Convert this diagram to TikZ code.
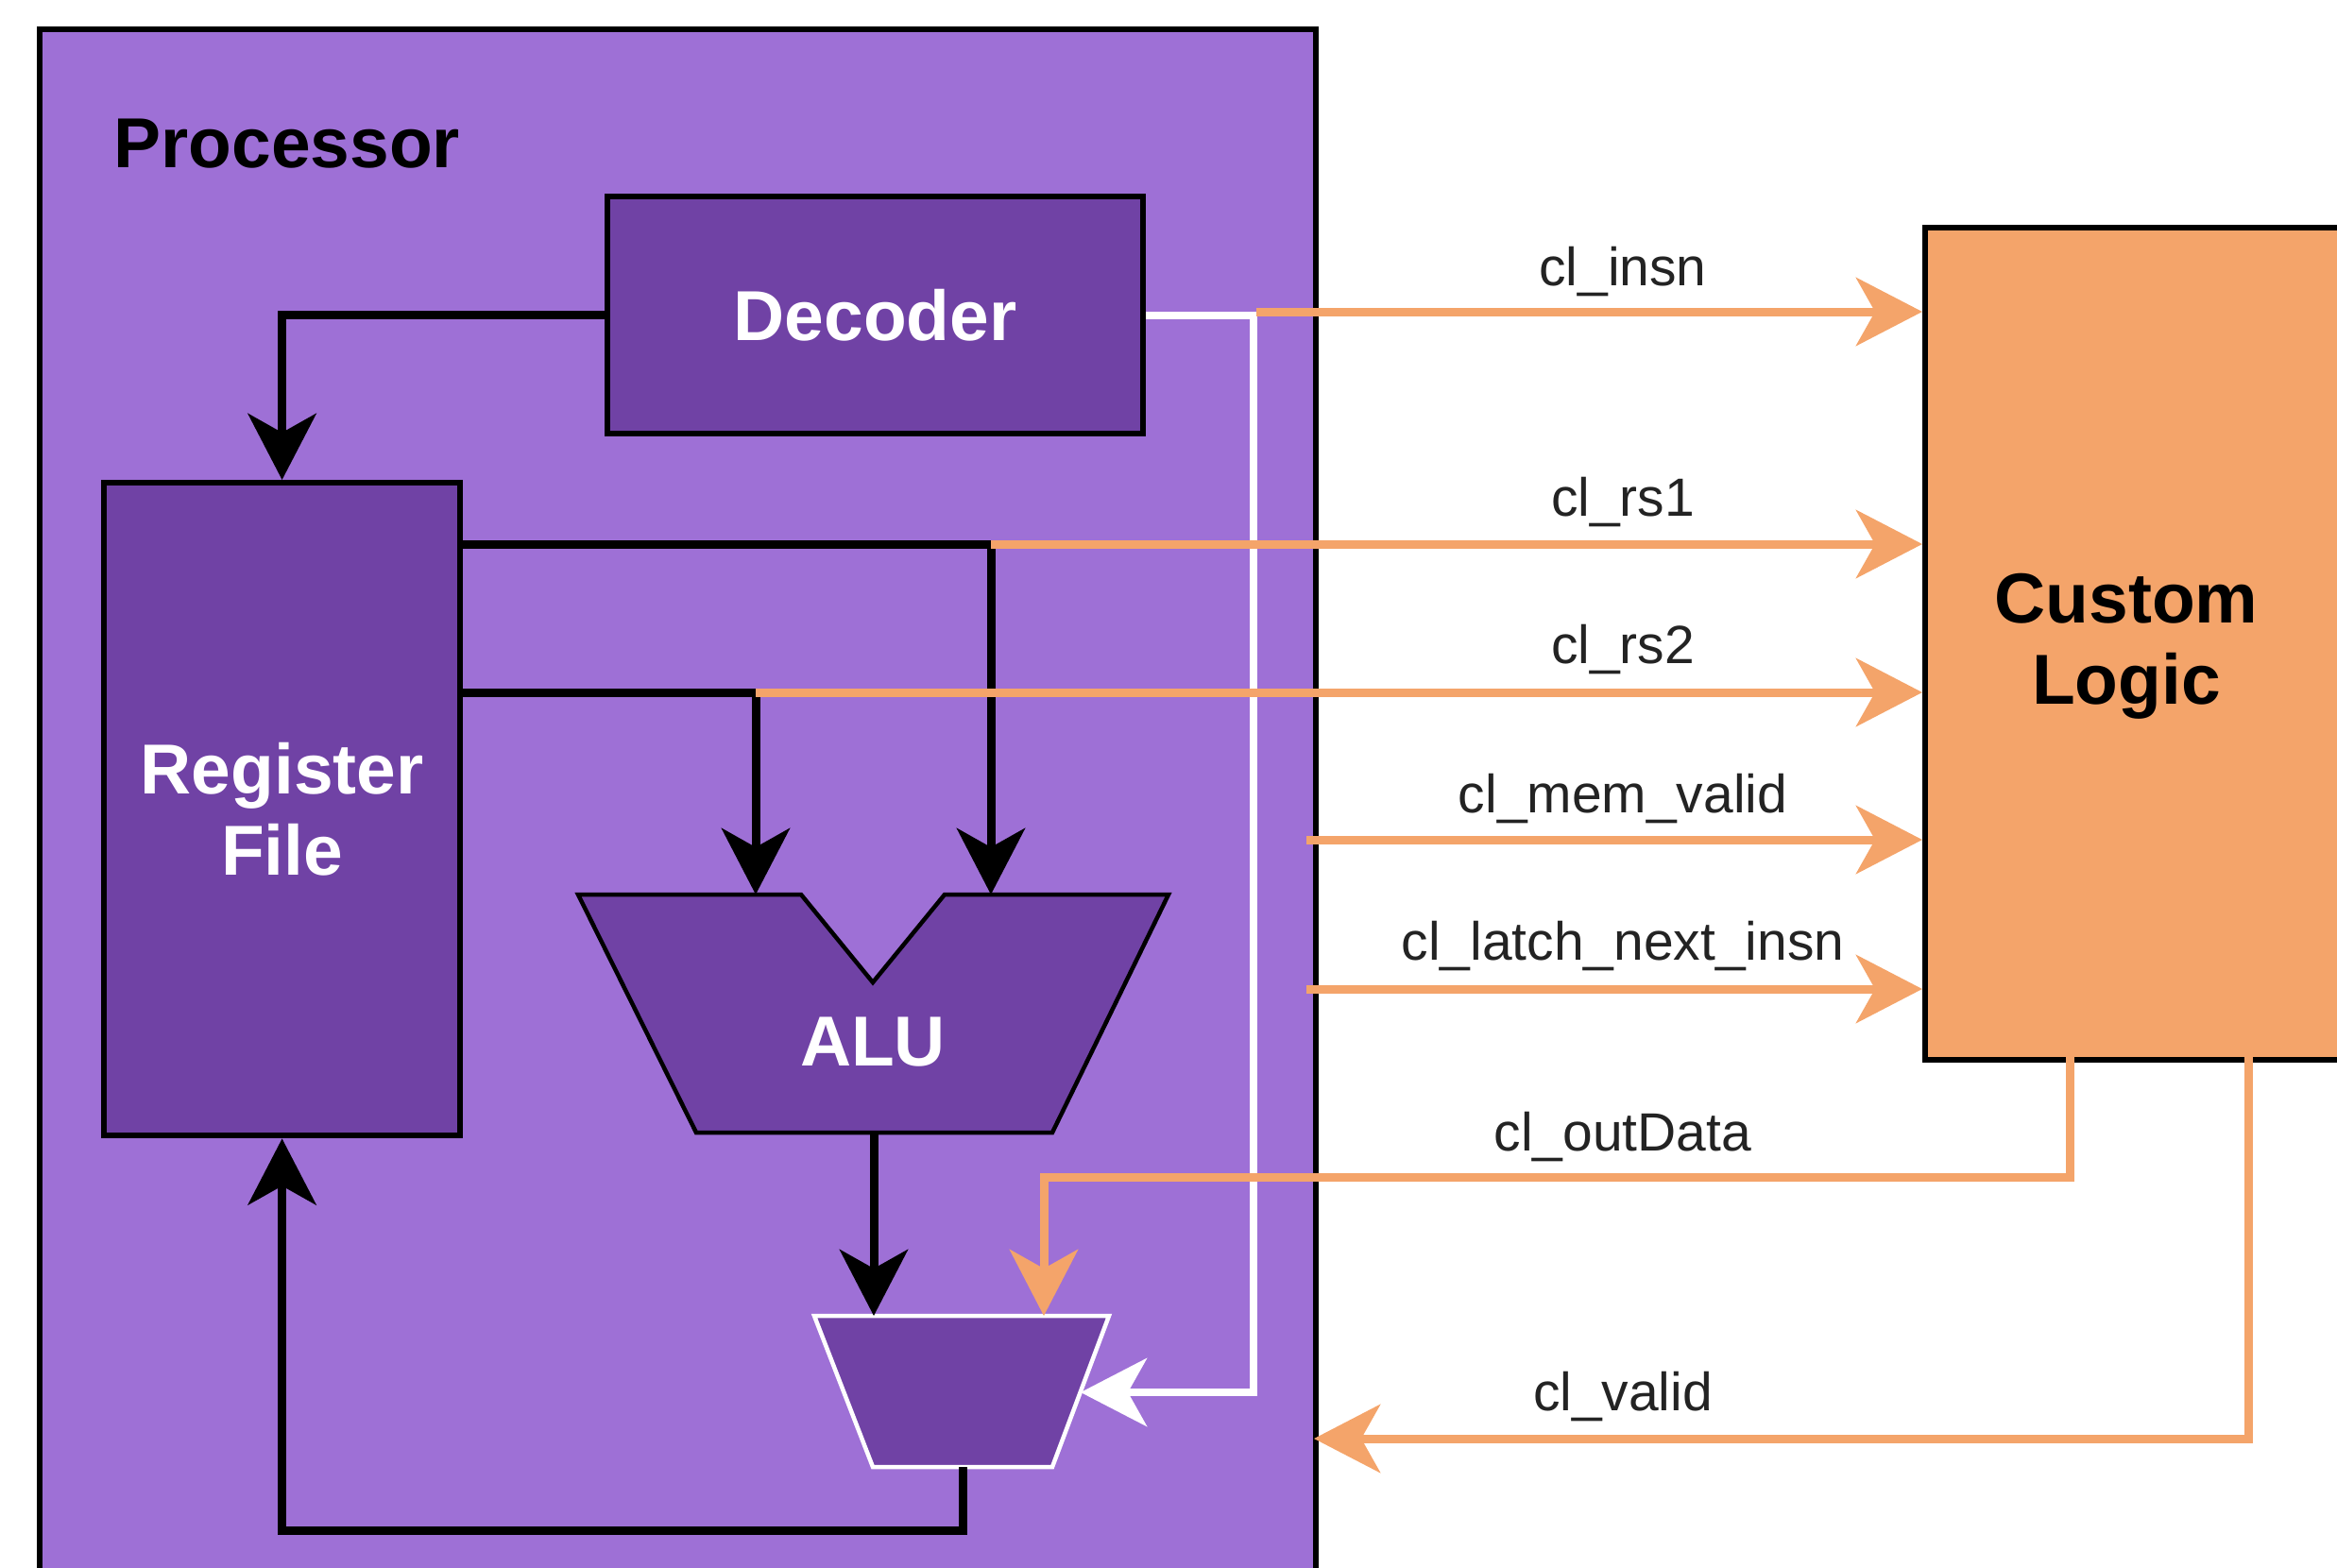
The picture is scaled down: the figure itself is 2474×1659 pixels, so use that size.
\documentclass[tikz,border=0pt]{standalone}
\usepackage{fontspec}
\setmainfont{Liberation Sans}
\usetikzlibrary{arrows.meta,calc}
\definecolor{procfill}{RGB}{158,112,214}
\definecolor{darkp}{RGB}{112,66,165}
\definecolor{orng}{RGB}{244,164,106}
\definecolor{lblc}{RGB}{35,35,35}
\begin{document}
\begin{tikzpicture}[x=0.01cm,y=-0.01cm,
  bigfont/.style={font=\fontsize{21.3}{24.5}\selectfont\bfseries},
  lbl/.style={font=\fontsize{16.2}{19}\selectfont, text=lblc, anchor=base, inner sep=0pt},
  darkbox/.style={draw=black, fill=darkp, line width=0.06cm, inner sep=0pt, anchor=north west, align=center, bigfont, text=white},
  tipA/.style={-{Stealth[length=0.7cm,width=0.72cm,inset=0.2cm]}},
  bw/.style={draw=black, line width=0.09cm, tipA},
  ww/.style={draw=white, line width=0.08cm, tipA},
  ow/.style={draw=orng, line width=0.09cm, tipA},
]
\useasboundingbox (0,0) rectangle (2474,1659);
\begin{scope}
\clip (0,0) rectangle (2474,1659);
% processor
\node[draw=black, fill=procfill, line width=0.06cm, anchor=north west, minimum width=13.5cm, minimum height=17cm, inner sep=0pt] (proc) at (39,28) {};
\node[bigfont, anchor=base west, inner sep=0pt] (ptitle) at (120,177) {Processor};
% decoder and register file
\node[darkbox, minimum width=5.67cm, minimum height=2.51cm] (dec) at (640,205) {Decoder};
\node[darkbox, minimum width=3.77cm, minimum height=6.91cm] (reg) at (107,508) {Register\\File};
% ALU
\draw[draw=black, fill=darkp, line width=0.045cm] (612,947) -- (848,947) -- (924,1040) -- (1000,947) -- (1237,947) -- (1114,1199) -- (737,1199) -- cycle;
\node[bigfont, text=white, anchor=base, inner sep=0pt] (alu) at (924,1128) {ALU};
\coordinate (aluL) at (800,947);
\coordinate (aluR) at (1049,947);
\coordinate (aluO) at (925,1199);
% mux
\draw[draw=white, fill=darkp, line width=0.045cm] (862,1393) -- (1174,1393) -- (1114,1553) -- (924,1553) -- cycle;
\coordinate (muxA) at (925,1393);
\coordinate (muxB) at (1105,1393);
\coordinate (muxS) at (1144,1474);
\coordinate (muxO) at (1019,1553);
% custom logic
\node[draw=black, fill=orng, line width=0.06cm, anchor=north west, minimum width=5.5cm, minimum height=8.8cm, inner sep=0pt] (cl) at (2035,238) {};
\node[bigfont, align=center, inner sep=0pt] (cltext) at (2251,684) {Custom\\Logic};
% black wires
\coordinate (rf1) at (484,576);
\coordinate (rf2) at (484,733);
\coordinate (fb) at (1019,1620);
\draw[bw] (dec.west) -| (reg.north);
\draw[bw] (rf1) -| (aluR);
\draw[bw] (rf2) -| (aluL);
\draw[bw] (aluO) -- (muxA);
\draw[bw] (muxO) -- (fb) -| (reg.south);
% white wire
\coordinate (wc) at (1327,1474);
\draw[ww] (dec.east) -| (wc) -- (muxS);
% orange wires
\coordinate (o1) at (1330,330);
\coordinate (o2) at (1049,576);
\coordinate (o3) at (800,733);
\coordinate (o4) at (1383,889);
\coordinate (o5) at (1383,1047);
\draw[ow] (o1) -- (cl.west |- o1);
\draw[ow] (o2) -- (cl.west |- o2);
\draw[ow] (o3) -- (cl.west |- o3);
\draw[ow] (o4) -- (cl.west |- o4);
\draw[ow] (o5) -- (cl.west |- o5);
\coordinate (odS) at (2191,1118);
\coordinate (odT) at (2191,1246);
\draw[ow] (odS) -- (odT) -| (muxB);
\coordinate (vS) at (2380,1118);
\coordinate (vE) at (1391,1523);
\draw[ow] (vS) |- (vE);
% labels
\node[lbl] (l1) at (1718,302) {cl\_insn};
\node[lbl] (l2) at (1718,546) {cl\_rs1};
\node[lbl] (l3) at (1718,702) {cl\_rs2};
\node[lbl] (l4) at (1718,860) {cl\_mem\_valid};
\node[lbl] (l5) at (1718,1016) {cl\_latch\_next\_insn};
\node[lbl] (l6) at (1718,1218) {cl\_outData};
\node[lbl] (l7) at (1718,1493) {cl\_valid};
\end{scope}
\end{tikzpicture}
\end{document}
